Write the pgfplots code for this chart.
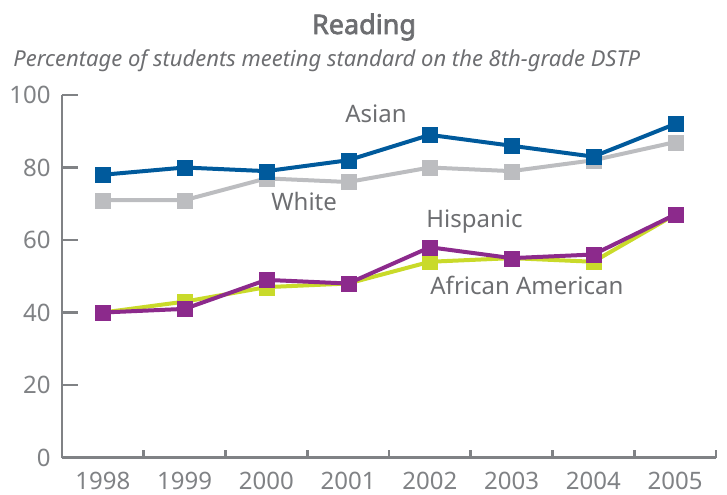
\documentclass[border=0pt]{standalone}
\usepackage{pgfplots}
\pgfplotsset{compat=1.18}
\usepackage{fontspec}
\setmainfont{Noto Sans}
\newfontfamily\titlefont{Noto Sans}[FakeBold=2.5]
\definecolor{casian}{HTML}{005A9C}
\definecolor{cwhite}{HTML}{BCBDC0}
\definecolor{chisp}{HTML}{8C2A8C}
\definecolor{cafam}{HTML}{C9DA2A}
\definecolor{axisgray}{HTML}{808285}
\definecolor{txtgray}{HTML}{6D6E71}
\begin{document}
\begin{tikzpicture}[x=1pt,y=1pt]
\useasboundingbox (0,0) rectangle (363.5,-247);
\begin{axis}[
  at={(31pt,-228.75pt)}, anchor=south west,
  scale only axis, width=327pt, height=181.25pt,
  xmin=-0.5, xmax=7.5, ymin=0, ymax=100,
  axis lines*=left,
  axis line style={draw=axisgray, line width=1.3pt, -},
  xtick={0,...,7}, xticklabels={1998,1999,2000,2001,2002,2003,2004,2005},
  minor xtick={0.5,1.5,...,7.5},
  ytick={0,20,...,100},
  tick align=inside,
  major tick length=8pt, minor tick length=4pt,
  tick style={draw=axisgray, line width=1.3pt},
  major x tick style={draw=none},
  /pgf/number format/assume math mode=true,
  every tick label/.append style={font=\fontsize{12}{14}\selectfont, text=axisgray},
  yticklabel style={inner sep=0pt, xshift=-5.5pt},
  xticklabel style={inner sep=0pt, yshift=-7pt},
  clip=false,
  every axis plot/.append style={line width=2pt, mark=square*, mark size=3.75pt, mark options={solid, line width=0.1pt}},
]
\addplot[color=cwhite] coordinates {(0,71) (1,71) (2,77) (3,76) (4,80) (5,79) (6,82) (7,87)};
\addplot[color=casian] coordinates {(0,78) (1,80) (2,79) (3,82) (4,89) (5,86) (6,83) (7,92)};
\addplot[color=cafam] coordinates {(0,40) (1,43) (2,47) (3,48) (4,54) (5,55) (6,54) (7,67)};
\addplot[color=chisp] coordinates {(0,40) (1,41) (2,49) (3,48) (4,58) (5,55) (6,56) (7,67)};
\end{axis}
\node[anchor=base, inner sep=0pt, text=txtgray, font=\titlefont\fontsize{13.5}{16}\selectfont] at (182,-17) {Reading};
\node[anchor=base west, inner sep=0pt, text=txtgray, font=\itshape\fontsize{11}{13}\selectfont] at (6.5,-33) {Percentage of students meeting standard on the 8th-grade DSTP};
\begin{scope}[every node/.style={anchor=base west, inner sep=0pt, text=txtgray, font=\fontsize{12}{14}\selectfont}]
\node at (172.5,-61) {Asian};
\node at (135.5,-105) {White};
\node at (213,-113.5) {Hispanic};
\node at (215,-147) {African American};
\end{scope}
\end{tikzpicture}
\end{document}
